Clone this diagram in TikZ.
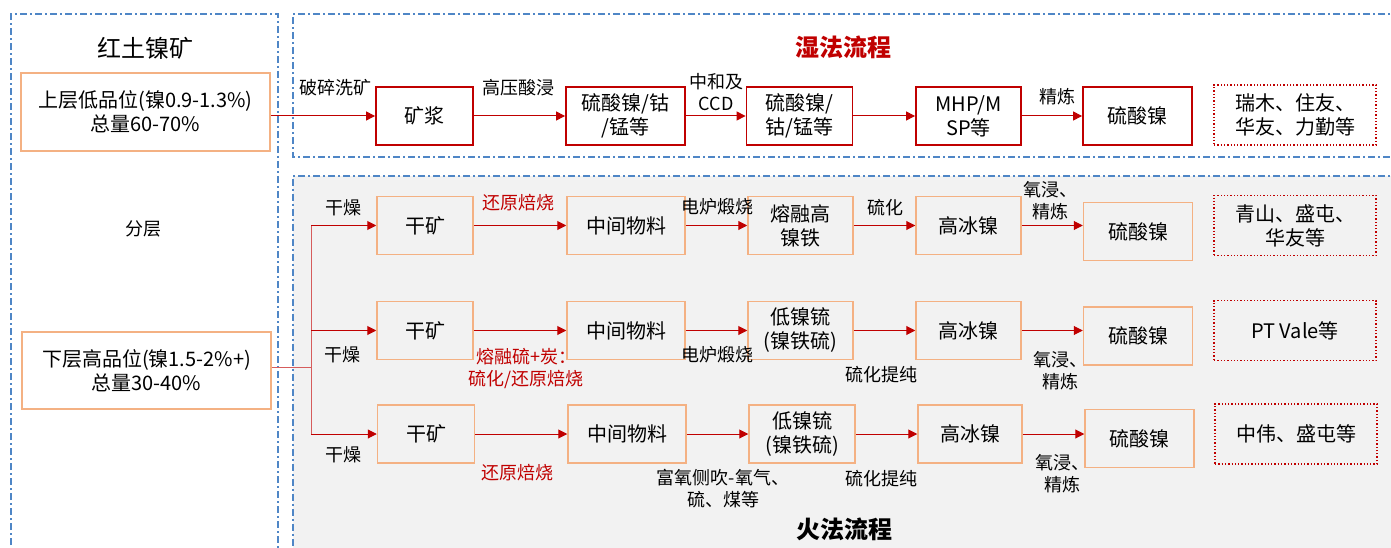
\documentclass[tikz,border=0pt]{standalone}
\usepackage{fontspec}
\setmainfont{Noto Sans CJK SC}
\usetikzlibrary{arrows.meta}
\definecolor{wred}{HTML}{C00000}
\definecolor{ora}{HTML}{F4B183}
\definecolor{dblue}{HTML}{4F86C6}
\definecolor{bggray}{HTML}{F2F2F2}
\definecolor{trunk}{HTML}{D65C5C}
\begin{document}
\begin{tikzpicture}[x=1pt,y=-1pt,
  boxfont/.style={font=\fontsize{20}{24}\selectfont},
  wbox/.style={draw=wred, line width=1.8pt, fill=white, minimum height=58pt, align=center, boxfont, inner sep=0pt},
  fbox/.style={draw=ora, line width=1.5pt, fill=bggray, minimum height=58pt, align=center, boxfont, inner sep=0pt},
  lbox/.style={draw=ora, line width=1.5pt, fill=white, minimum width=249pt, align=center, boxfont, inner sep=0pt},
  cbox/.style={draw=wred, dotted, line width=1.3pt, minimum height=60pt, minimum width=162pt, align=center, boxfont, inner sep=0pt},
  lbl/.style={font=\fontsize{18}{22}\selectfont, align=center, inner sep=0pt},
  rlbl/.style={lbl, text=wred},
  arr/.style={draw=wred, line width=1pt, -{Triangle[length=9pt,width=9pt]}},
  trunkline/.style={draw=trunk, line width=1pt},
  frame/.style={draw=dblue, line width=1.5pt, dash pattern=on 7pt off 3pt on 2pt off 3pt},
  ttl/.style={font=\fontsize{24}{28}\selectfont\bfseries, inner sep=0pt}
]
\useasboundingbox (0,0) rectangle (1391,548);
\clip (0,0) rectangle (1391,548);
% backgrounds and frames
\fill[bggray] (293,176) rectangle (1400,560);
\draw[frame] (11,560) -- (11,14) -- (278,14) -- (278,560);
\draw[frame] (1400,14) -- (293,14) -- (293,157) -- (1400,157);
\draw[frame] (1400,176) -- (293,176) -- (293,560);

% left column
\node[font=\fontsize{24}{28}\selectfont, inner sep=0pt] (ltitle) at (145,48) {红土镍矿};
\node[lbox, minimum height=78pt] (up) at (145.5,112) {上层低品位(镍0.9-1.3\%)\\总量60-70\%};
\node[lbl] (fenceng) at (143,229) {分层};
\node[lbox, minimum height=77pt] (low) at (146.5,370.5) {下层高品位(镍1.5-2\%+)\\总量30-40\%};

% wet process
\node[ttl, text=wred] (wtitle) at (843,47) {湿法流程};
\node[wbox, minimum width=97pt] (w1) at (424.5,116) {矿浆};
\node[wbox, minimum width=119pt] (w2) at (625.5,116) {硫酸镍/钴\\/锰等};
\node[wbox, minimum width=106pt] (w3) at (799.5,116) {硫酸镍/\\钴/锰等};
\node[wbox, minimum width=105pt] (w4) at (968.5,116) {MHP/M\\SP等};
\node[wbox, minimum width=109pt] (w5) at (1137.5,116) {硫酸镍};
\node[cbox] (w6) at (1295,115) {瑞木、住友、\\华友、力勤等};

\draw[arr] (up.east |- w1.west) -- (w1.west);
\draw[arr] (w1.east) -- (w2.west);
\draw[arr] (w2.east) -- (w3.west);
\draw[arr] (w3.east) -- (w4.west);
\draw[arr] (w4.east) -- (w5.west);

\node[lbl] (lw1) at (335,88) {破碎洗矿};
\node[lbl] (lw2) at (518,88) {高压酸浸};
\node[lbl] (lw3) at (716,92) {中和及\\CCD};
\node[lbl] (lw4) at (1057,97) {精炼};

% fire process
\node[ttl] (ftitle) at (844,529) {火法流程};

% row 1
\node[fbox, minimum width=96pt] (a1) at (425,225.5) {干矿};
\node[fbox, minimum width=118pt] (b1) at (626,225.5) {中间物料};
\node[fbox, minimum width=105pt] (c1) at (800.5,225.5) {熔融高\\镍铁};
\node[fbox, minimum width=105pt] (d1) at (968.5,225.5) {高冰镍};
\node[fbox, minimum width=109pt] (e1) at (1138,231.5) {硫酸镍};
\node[cbox] (f1) at (1295,225.5) {青山、盛屯、\\华友等};

% row 2
\node[fbox, minimum width=96pt] (a2) at (425,330.5) {干矿};
\node[fbox, minimum width=118pt] (b2) at (626,330.5) {中间物料};
\node[fbox, minimum width=105pt] (c2) at (800.5,330.5) {低镍锍\\(镍铁硫)};
\node[fbox, minimum width=105pt] (d2) at (968.5,330.5) {高冰镍};
\node[fbox, minimum width=109pt] (e2) at (1138,336) {硫酸镍};
\node[cbox] (f2) at (1295,330.5) {PT Vale等};

% row 3
\node[fbox, minimum width=97pt] (a3) at (426,434) {干矿};
\node[fbox, minimum width=118pt] (b3) at (627,434) {中间物料};
\node[fbox, minimum width=106pt] (c3) at (802,434) {低镍锍\\(镍铁硫)};
\node[fbox, minimum width=104pt] (d3) at (970,434) {高冰镍};
\node[fbox, minimum width=109pt] (e3) at (1139.5,438.5) {硫酸镍};
\node[cbox] (f3) at (1296,434) {中伟、盛屯等};

% trunk
\coordinate (t1) at (311,225.5);
\coordinate (t2) at (311,330.5);
\coordinate (t3) at (311,434);
\coordinate (tin) at (311,367);
\draw[trunkline] (t1) -- (t3);
\draw[trunkline] (low.east |- tin) -- (tin);

\foreach \r in {1,2} {
  \draw[arr] (t\r) -- (a\r.west);
}
\draw[arr] (t3) -- (a3.west);
\foreach \r in {1,2,3} {
  \draw[arr] (a\r.east) -- (b\r.west);
  \draw[arr] (b\r.east) -- (c\r.west);
  \draw[arr] (c\r.east) -- (d\r.west);
  \draw[arr] (d\r.east) -- (d\r.east -| e\r.west);
}

% fire labels row 1
\node[lbl] (g1) at (343,208) {干燥};
\node[rlbl] (h1) at (518,203) {还原焙烧};
\node[lbl] (k1) at (717,207) {电炉煅烧};
\node[lbl] (m1) at (885,208) {硫化};
\node[lbl] (n1) at (1050,201) {氧浸、\\精炼};

% fire labels row 2
\node[lbl] (g2) at (342,355) {干燥};
\node[rlbl] (h2) at (526,368) {熔融硫+炭：\\硫化/还原焙烧};
\node[lbl] (k2) at (717,355) {电炉煅烧};
\node[lbl] (m2) at (881,375) {硫化提纯};
\node[lbl] (n2) at (1060,371) {氧浸、\\精炼};

% fire labels row 3
\node[lbl] (g3) at (343,455) {干燥};
\node[rlbl] (h3) at (517,473) {还原焙烧};
\node[lbl] (k3) at (723,489) {富氧侧吹-氧气、\\硫、煤等};
\node[lbl] (m3) at (881,479) {硫化提纯};
\node[lbl] (n3) at (1062,474) {氧浸、\\精炼};
\end{tikzpicture}
\end{document}
